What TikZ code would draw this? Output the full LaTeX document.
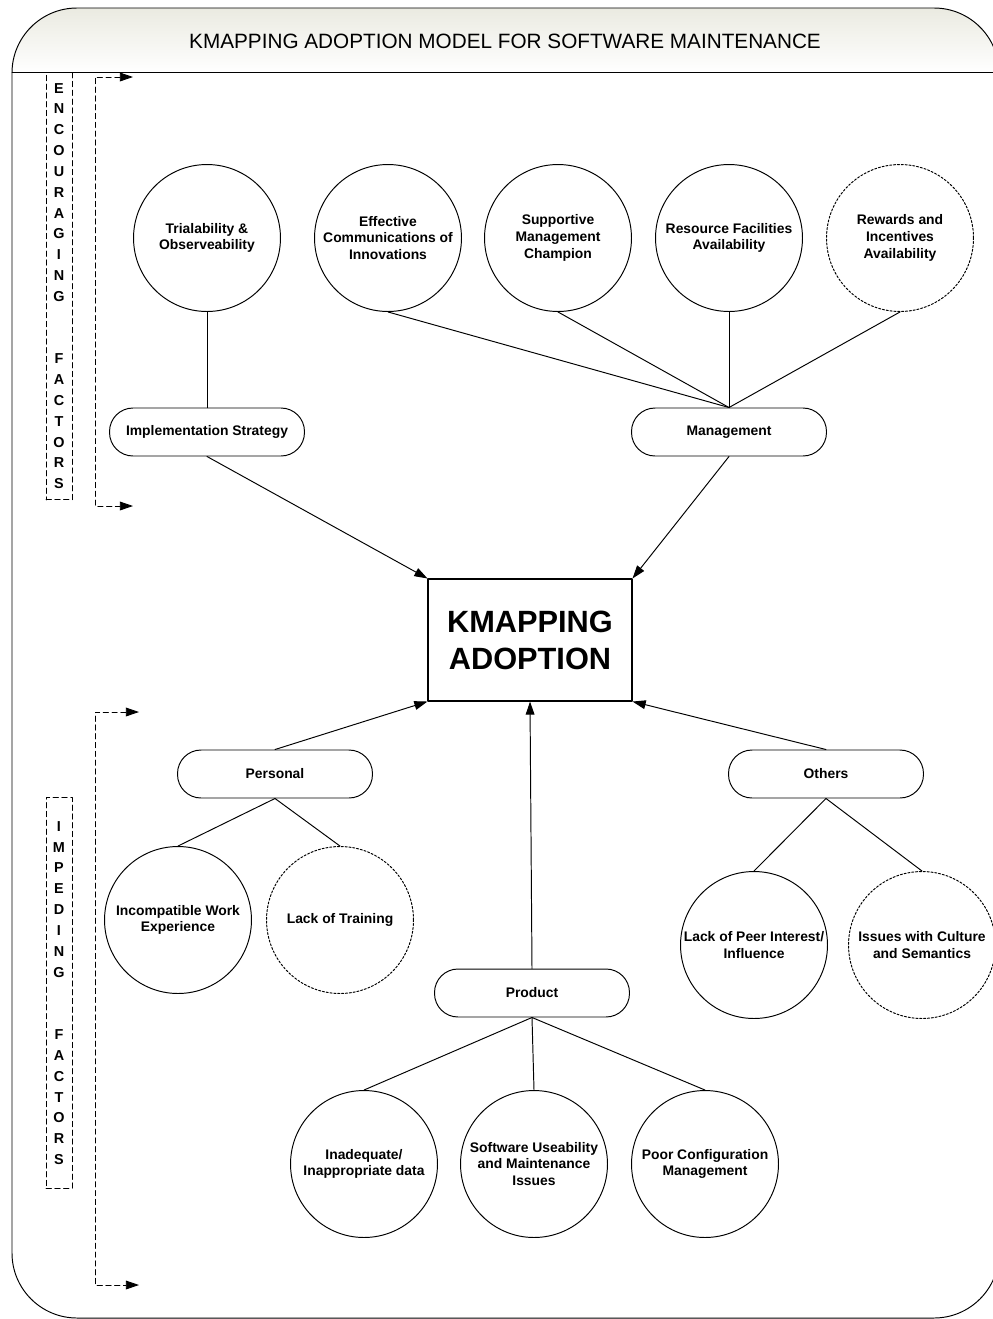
\documentclass[tikz,border=0pt]{standalone}
\usepackage{fontspec}
\setmainfont{Liberation Sans}
\usepackage{xcolor}
\usepackage{tikz}
\usetikzlibrary{arrows.meta,positioning}

\definecolor{headgray}{RGB}{234,234,225}

\begin{document}
\begin{tikzpicture}[
  x=0.02cm,
  y=-0.02cm,
  line cap=round,
  line join=round,
  >={Triangle[length=7.5pt,width=5pt]},
  thinline/.style={black,line width=0.55pt},
  factor/.style={circle,draw=black,line width=0.55pt,minimum size=2.94cm,
    inner sep=0pt,align=center,font=\fontsize{7.9}{9.5}\selectfont\bfseries},
  weakfactor/.style={factor,dash pattern=on 1.2pt off 1pt},
  groupbox/.style={draw=black,line width=0.55pt,rounded corners=0.47cm,
    minimum width=3.9cm,minimum height=0.96cm,
    font=\fontsize{7.9}{9.5}\selectfont\bfseries},
  corebox/.style={draw=black,line width=0.6pt,minimum width=4.08cm,
    minimum height=2.44cm,align=center,
    font=\fontsize{17.5}{21}\selectfont\bfseries},
  sidebox/.style={draw=black,line width=0.55pt,dash pattern=on 3pt off 2pt,
    minimum width=0.52cm,inner sep=0pt,align=center,
    font=\fontsize{8.2}{11.85}\selectfont\bfseries},
  bracket/.style={black,line width=0.5pt,dash pattern=on 3pt off 2pt,<->}
]
\useasboundingbox (0,0) rectangle (992,1319);

% frame and header
\shade[top color=headgray,bottom color=white,rounded corners=1.3cm]
  (12,72) -- (12,8) -- (999,8) [sharp corners] -- (999,72) -- cycle;
\draw[thinline,rounded corners=1.3cm] (12,8) rectangle (999,1318);
\draw[thinline] (12,72) -- (999,72);
\node[font=\fontsize{11.8}{13}\selectfont] (title) at (505,41)
  {KMAPPING ADOPTION MODEL FOR SOFTWARE MAINTENANCE};

% side labels
\node[sidebox,minimum height=8.56cm] (encouraging) at (59,286)
  {E\\N\\C\\O\\U\\R\\A\\G\\I\\N\\G\\[23.7pt]F\\A\\C\\T\\O\\R\\S};
\node[sidebox,minimum height=7.82cm] (impeding) at (59,993)
  {I\\M\\P\\E\\D\\I\\N\\G\\[23.7pt]F\\A\\C\\T\\O\\R\\S};

\coordinate (enctop) at (133,77);
\coordinate (encbot) at (133,506);
\coordinate (imptop) at (139,712);
\coordinate (impbot) at (139,1285);
\draw[bracket] (enctop) -- ++(-38,0) |- (encbot);
\draw[bracket] (imptop) -- ++(-44,0) |- (impbot);

% encouraging factors
\node[factor] (trial) at (207,238) {Trialability \&\\Observeability};
\node[factor] (effcomm) at (388,238) {Effective\\Communications of\\Innovations};
\node[factor] (support) at (558,238) {Supportive\\Management\\Champion};
\node[factor] (resource) at (729,238) {Resource Facilities\\Availability};
\node[weakfactor] (rewards) at (900,238) {Rewards and\\Incentives\\Availability};

\node[groupbox] (impl) at (207,432) {Implementation Strategy};
\node[groupbox] (mgmt) at (729,432) {Management};

\node[corebox] (adopt) at (530,640) {KMAPPING\\ADOPTION};

% impeding factors
\node[groupbox] (personal) at (275,774) {Personal};
\node[groupbox] (others) at (826,774) {Others};
\node[groupbox] (product) at (532,993) {Product};

\node[factor] (incompat) at (178,920) {Incompatible Work\\Experience};
\node[weakfactor] (training) at (340,920) {Lack of Training};
\node[factor] (peer) at (754,945) {Lack of Peer Interest/\\Influence};
\node[weakfactor] (culture) at (922,945) {Issues with Culture\\and Semantics};
\node[factor] (inadequate) at (364,1164) {Inadequate/\\Inappropriate data};
\node[factor] (useability) at (534,1164) {Software Useability\\and Maintenance\\Issues};
\node[factor] (config) at (705,1164) {Poor Configuration\\Management};

% links
\draw[thinline] (trial.south) -- (impl.north);
\draw[thinline] (effcomm.south) -- (mgmt.north);
\draw[thinline] (support.south) -- (mgmt.north);
\draw[thinline] (resource.south) -- (mgmt.north);
\draw[thinline] (rewards.south) -- (mgmt.north);

\draw[thinline,->] (impl.south) -- (adopt.north west);
\draw[thinline,->] (mgmt.south) -- (adopt.north east);
\draw[thinline,->] (personal.north) -- (adopt.south west);
\draw[thinline,->] (others.north) -- (adopt.south east);
\draw[thinline,->] (product.north) -- (adopt.south);

\draw[thinline] (personal.south) -- (incompat.north);
\draw[thinline] (personal.south) -- (training.north);
\draw[thinline] (others.south) -- (peer.north);
\draw[thinline] (others.south) -- (culture.north);
\draw[thinline] (product.south) -- (inadequate.north);
\draw[thinline] (product.south) -- (useability.north);
\draw[thinline] (product.south) -- (config.north);
\end{tikzpicture}
\end{document}
